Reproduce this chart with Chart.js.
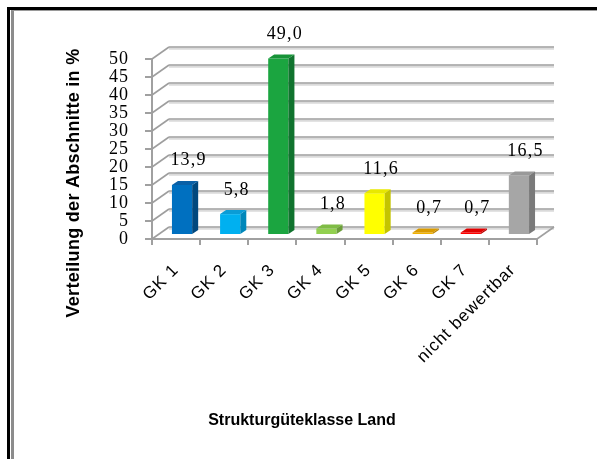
<!DOCTYPE html>
<html lang="de">
<head>
<meta charset="utf-8">
<title>Strukturgüteklasse Land</title>
<script src="https://cdn.jsdelivr.net/npm/chart.js@4.4.1/dist/chart.umd.min.js"></script>
<style>
  html, body { margin: 0; padding: 0; background: #fff; }
  #wrap { position: relative; width: 597px; height: 459px; overflow: hidden; }
  .frame-outer { position: absolute; left: 7px; top: 7px; right: 0; bottom: 0;
                 border-top: 3px solid #000; border-left: 3px solid #000; }
  .frame-inner { position: absolute; left: 11px; top: 10px; right: 0; bottom: 0;
                 border-top: 1px solid #9a9a9a; border-left: 3px solid #8c8c8c; }
  canvas { position: absolute; left: 0; top: 0; }
</style>
</head>
<body>
<div id="wrap">
  <div class="frame-outer"></div>
  <div class="frame-inner"></div>
  <canvas id="chart" width="597" height="459"></canvas>
</div>
<script>
// Anteil der Gewässerabschnitte je Strukturgüteklasse (Land), in %
const categories = ['GK 1', 'GK 2', 'GK 3', 'GK 4', 'GK 5', 'GK 6', 'GK 7', 'nicht bewertbar'];
const shares = [13.9, 5.8, 49.0, 1.8, 11.6, 0.7, 0.7, 16.5];
const yAxisTitle = 'Verteilung der Abschnitte in %';
const xAxisTitle = 'Strukturgüteklasse Land';

// Farben der Säulen: Vorderseite, Deckfläche, Seitenfläche
const frontColors = ['#0070C0', '#00B0F0', '#1BA540', '#92D050', '#FFFF00', '#F2B200', '#FF0000', '#A6A6A6'];
const topColors   = ['#0A60A6', '#0A9CD6', '#179338', '#7FBC45', '#E8E800', '#D99A00', '#E00000', '#999999'];
const sideColors  = ['#00487E', '#0087BA', '#10732E', '#6C9E3A', '#C4C400', '#B88200', '#B80000', '#7A7A7A'];

// Pseudo-3D: Rückwand-Versatz, Lage der Säulen in der Tiefe, Säulentiefe
const WALL = { dx: 17, dy: -12 };
const BAR_SHIFT = { dx: 6, dy: -4 };
const BAR_DEPTH = { dx: 6, dy: -4 };

const fmt = v => v.toFixed(1).replace('.', ',');

function line(ctx, x1, y1, x2, y2) {
  ctx.beginPath(); ctx.moveTo(x1, y1); ctx.lineTo(x2, y2); ctx.stroke();
}
function poly(ctx, pts) {
  ctx.beginPath();
  ctx.moveTo(pts[0][0], pts[0][1]);
  for (let i = 1; i < pts.length; i++) ctx.lineTo(pts[i][0], pts[i][1]);
  ctx.closePath(); ctx.fill();
}

// leicht gesperrte Schrift für die Achsenbeschriftungen
const spacingPlugin = {
  id: 'spacing',
  beforeDraw(chart) { chart.ctx.letterSpacing = '1px'; }
};

// Rückwand mit Gitterlinien, linke Seitenwand und Bodenkante
const wallsPlugin = {
  id: 'walls',
  beforeDatasetsDraw(chart) {
    const { ctx, chartArea: { left, right, bottom }, scales: { y } } = chart;
    ctx.save();
    y.ticks.forEach(t => {
      const py = y.getPixelForValue(t.value);
      ctx.strokeStyle = '#dadada'; ctx.lineWidth = 2;
      line(ctx, left + WALL.dx, py + WALL.dy + 1.8, right + WALL.dx, py + WALL.dy + 1.8);
      ctx.strokeStyle = '#9e9e9e'; ctx.lineWidth = 1.6;
      line(ctx, left + WALL.dx, py + WALL.dy, right + WALL.dx, py + WALL.dy);
      line(ctx, left, py, left + WALL.dx, py + WALL.dy);
    });
    ctx.strokeStyle = '#a0a0a0'; ctx.lineWidth = 1.6;
    line(ctx, right, bottom, right + WALL.dx, bottom + WALL.dy);
    ctx.restore();
  }
};

// Säulen in die mittlere Tiefenebene versetzen
const barShiftPlugin = {
  id: 'barShift',
  beforeDatasetDraw(chart) {
    chart.ctx.save();
    chart.ctx.translate(BAR_SHIFT.dx, BAR_SHIFT.dy);
  },
  afterDatasetDraw(chart) {
    chart.ctx.restore();
  }
};

// Deck- und Seitenflächen der Säulen, danach die Wertbeschriftungen
const facesPlugin = {
  id: 'faces',
  afterDatasetsDraw(chart) {
    const { ctx } = chart;
    const meta = chart.getDatasetMeta(0);
    ctx.save();
    meta.data.forEach((bar, i) => {
      const { x, y, base, width } = bar.getProps(['x', 'y', 'base', 'width'], true);
      const l = x - width / 2 + BAR_SHIFT.dx, r = x + width / 2 + BAR_SHIFT.dx;
      const t = y + BAR_SHIFT.dy, b = base + BAR_SHIFT.dy;
      ctx.fillStyle = sideColors[i];
      poly(ctx, [[r, t], [r + BAR_DEPTH.dx, t + BAR_DEPTH.dy], [r + BAR_DEPTH.dx, b + BAR_DEPTH.dy], [r, b]]);
      ctx.fillStyle = topColors[i];
      poly(ctx, [[l, t], [l + BAR_DEPTH.dx, t + BAR_DEPTH.dy], [r + BAR_DEPTH.dx, t + BAR_DEPTH.dy], [r, t]]);
    });
    ctx.fillStyle = '#000';
    ctx.font = '18px "Liberation Serif"';
    ctx.letterSpacing = '1.2px';
    ctx.textAlign = 'center';
    ctx.textBaseline = 'alphabetic';
    meta.data.forEach((bar, i) => {
      const { x, y } = bar.getProps(['x', 'y'], true);
      ctx.fillText(fmt(shares[i]), x + 12.5, y - 23.5);
    });
    ctx.restore();
  }
};

// Achsentitel
const titlesPlugin = {
  id: 'axisTitles',
  afterDraw(chart) {
    const { ctx } = chart;
    ctx.save();
    ctx.fillStyle = '#000';
    ctx.textAlign = 'center';
    ctx.textBaseline = 'middle';
    ctx.letterSpacing = '0px';
    ctx.font = 'bold 16px "Liberation Sans"';
    ctx.fillText(xAxisTitle, 302, 421);
    ctx.translate(74, 183);
    ctx.rotate(-Math.PI / 2);
    ctx.letterSpacing = '0.3px';
    ctx.font = 'bold 18px "Liberation Sans"';
    ctx.fillText(yAxisTitle, 0, 0);
    ctx.restore();
  }
};

new Chart(document.getElementById('chart'), {
  type: 'bar',
  data: {
    labels: categories,
    datasets: [{
      data: shares,
      backgroundColor: frontColors,
      borderWidth: 0,
      barPercentage: 0.42,
      categoryPercentage: 1,
      clip: false
    }]
  },
  options: {
    responsive: false,
    animation: false,
    devicePixelRatio: 1,
    layout: { padding: { left: 0, top: 59, right: 60, bottom: 0 } },
    plugins: { legend: { display: false }, tooltip: { enabled: false } },
    scales: {
      x: {
        grid: { offset: true, drawOnChartArea: false, drawTicks: true, tickLength: 6, color: '#a0a0a0', lineWidth: 2 },
        border: { display: true, color: '#a0a0a0', width: 2 },
        ticks: {
          color: '#000', font: { family: 'Liberation Sans', size: 17 },
          minRotation: 45, maxRotation: 45, padding: 15, autoSkip: false
        },
        afterFit(scale) { scale.height = 220; }
      },
      y: {
        min: 0, max: 50,
        ticks: { stepSize: 5, autoSkip: false, color: '#000', font: { family: 'Liberation Serif', size: 18 }, padding: 16 },
        grid: { drawOnChartArea: false, drawTicks: true, tickLength: 7, color: '#a0a0a0', lineWidth: 2 },
        border: { display: true, color: '#a0a0a0', width: 2 },
        afterFit(scale) { scale.width = 152; }
      }
    }
  },
  plugins: [spacingPlugin, wallsPlugin, barShiftPlugin, facesPlugin, titlesPlugin]
});
</script>
</body>
</html>
